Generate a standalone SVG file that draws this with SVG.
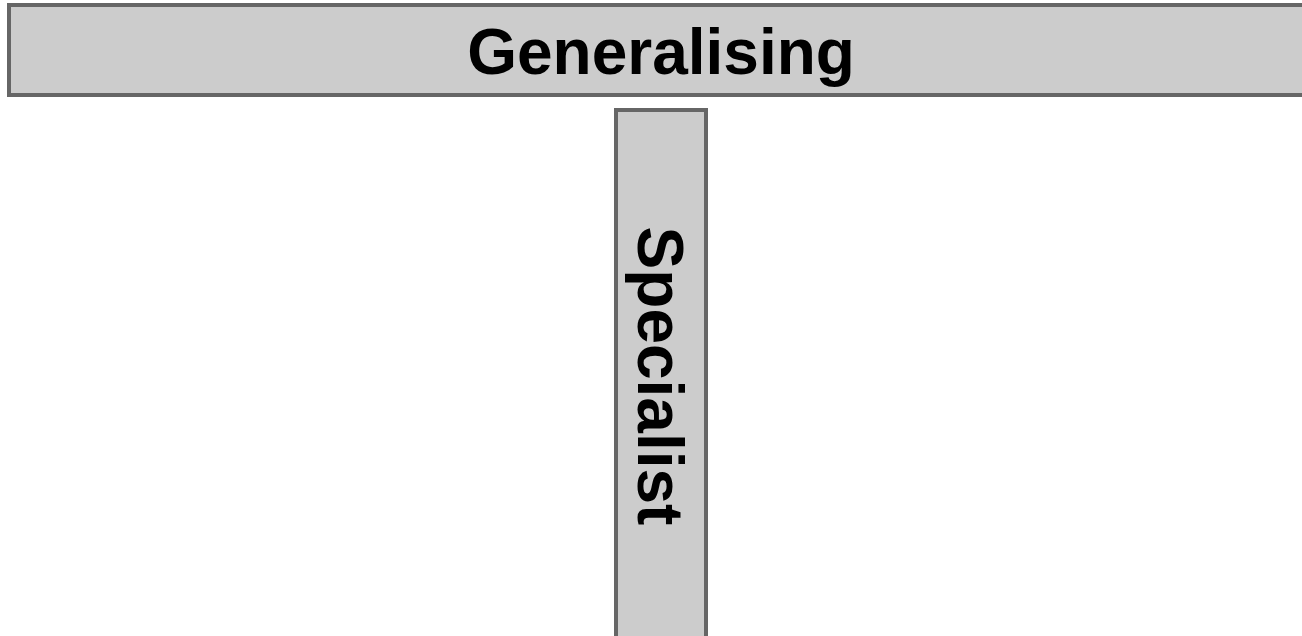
<svg xmlns="http://www.w3.org/2000/svg" width="1302" height="636" viewBox="0 0 1302 636">
<style>
.box{fill:#cccccc;stroke:#666666;stroke-width:4}
.lbl{font-family:"Liberation Sans",Arial,sans-serif;font-weight:bold;font-size:64px;fill:#000;text-anchor:middle}
</style>
<rect width="1302" height="636" fill="#ffffff"/>
<g id="generalising">
<rect class="box" x="9" y="5" width="1310" height="90"/>
<text class="lbl" x="661" y="74">Generalising</text>
</g>
<g id="specialist">
<rect class="box" x="616" y="110" width="90" height="560"/>
<text class="lbl" transform="translate(638,376) rotate(90)">Specialist</text>
</g>
<g id="connectors"/>
</svg>
